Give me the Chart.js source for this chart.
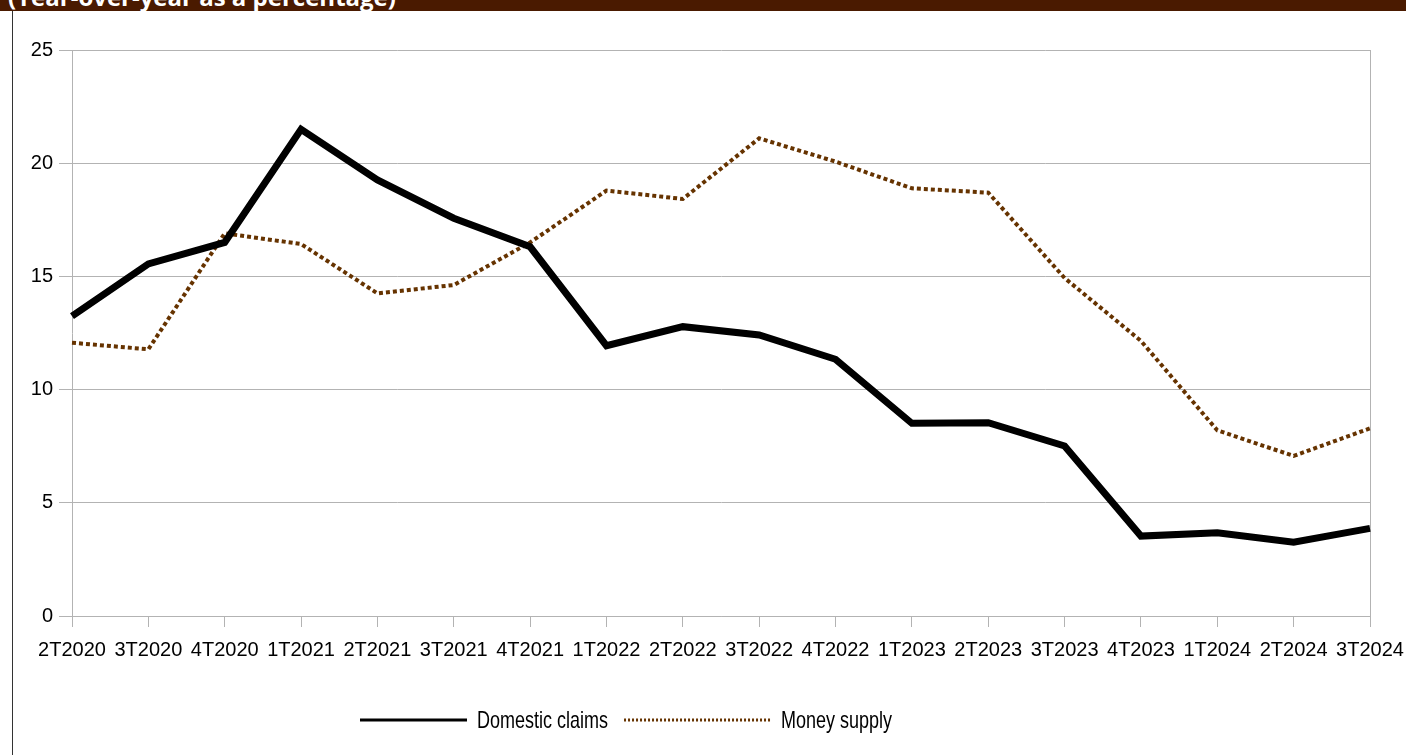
<!DOCTYPE html>
<html>
<head>
<meta charset="utf-8">
<script src="https://cdn.jsdelivr.net/npm/chart.js@4.4.1/dist/chart.umd.min.js"></script>
<style>
  html, body { margin: 0; padding: 0; background: #fff; overflow: hidden; }
  #wrap { position: relative; width: 1406px; height: 755px; }
  #banner { position: absolute; left: 0; top: 0; width: 1406px; height: 11px; background: #4a1a00; overflow: hidden; z-index: 2; }
  #banner span { position: absolute; left: 8px; top: -15px; font: bold 24px "Open Sans", sans-serif; line-height: 24px; color: #fff; white-space: nowrap; }
  #frame { position: absolute; left: 12px; top: 11px; width: 1px; height: 744px; background: #333; z-index: 2; }
  canvas { position: absolute; left: 0; top: 0; }
</style>
</head>
<body>
<div id="wrap">
  <div id="banner"><span>(Year-over-year as a percentage)</span></div>
  <div id="frame"></div>
  <canvas id="chart" width="1406" height="755"></canvas>
</div>
<script>
// Domestic claims vs money supply, year-over-year %, quarterly.

const QUARTERS = [
  "2T2020", "3T2020", "4T2020", "1T2021", "2T2021", "3T2021", "4T2021", "1T2022", "2T2022",
  "3T2022", "4T2022", "1T2023", "2T2023", "3T2023", "4T2023", "1T2024", "2T2024", "3T2024",
];
const DOMESTIC_CLAIMS = [13.25, 15.55, 16.5, 21.5, 19.26, 17.57, 16.31, 11.94, 12.78, 12.41, 11.34, 8.51, 8.54, 7.51, 3.53, 3.68, 3.26, 3.87];
const MONEY_SUPPLY = [12.07, 11.78, 16.9, 16.43, 14.25, 14.62, 16.5, 18.79, 18.42, 21.1, 20.07, 18.89, 18.7, 14.93, 12.15, 8.2, 7.07, 8.29];
const Y_MIN = 0;
const Y_MAX = 25;
const Y_STEP = 5;

const GRID = "#b3b3b3";
const BROWN = "#663300";
const AXIS_FONT = { family: '"Liberation Sans", Arial, sans-serif', size: 20 };

// legend drawn by hand: the two samples have different lengths and the text is condensed
const LEGEND_SAMPLES = [
  { width: 107, lineWidth: 3, dash: [] },
  { width: 147, lineWidth: 3, dash: [2, 2] },
];
const LEGEND_SQUEEZE = 0.75;

const bottomLegend = {
  id: "bottomLegend",
  afterDraw(chart) {
    const ctx = chart.ctx;
    const y = 721;
    let x = 360;
    ctx.save();
    ctx.font = '24px "Liberation Sans", Arial, sans-serif';
    ctx.textBaseline = "middle";
    chart.data.datasets.forEach((ds, i) => {
      const s = LEGEND_SAMPLES[i];
      ctx.beginPath();
      ctx.strokeStyle = ds.borderColor;
      ctx.lineWidth = s.lineWidth;
      ctx.setLineDash(s.dash);
      ctx.lineCap = "butt";
      ctx.moveTo(x, y - 1);
      ctx.lineTo(x + s.width, y - 1);
      ctx.stroke();
      x += s.width + 10;
      ctx.setLineDash([]);
      ctx.fillStyle = "#000";
      ctx.save();
      ctx.translate(x, y);
      ctx.scale(LEGEND_SQUEEZE, 1);
      ctx.fillText(ds.label, 0, 0);
      ctx.restore();
      x += ctx.measureText(ds.label).width * LEGEND_SQUEEZE + 16;
    });
    ctx.restore();
  },
};

new Chart(document.getElementById("chart"), {
  type: "line",
  data: {
    labels: QUARTERS,
    datasets: [
      {
        label: "Domestic claims",
        data: DOMESTIC_CLAIMS,
        borderColor: "#000",
        borderWidth: 7,
        borderJoinStyle: "miter",
        pointRadius: 0,
        tension: 0,
      },
      {
        label: "Money supply",
        data: MONEY_SUPPLY,
        borderColor: BROWN,
        borderWidth: 4,
        borderDash: [4, 3],
        borderJoinStyle: "miter",
        pointRadius: 0,
        tension: 0,
      },
    ],
  },
  options: {
    responsive: false,
    animation: false,
    layout: { padding: { top: 50, right: 36, bottom: 79, left: 0 } },
    plugins: {
      legend: { display: false },
      tooltip: { enabled: false },
    },
    scales: {
      x: {
        offset: false,
        afterFit(scale) {
          scale.height = 60;
          scale.paddingLeft = 0;
          scale.paddingRight = 0;
        },
        grid: {
          color: c => (c.index === QUARTERS.length - 1 ? GRID : "transparent"),
          tickColor: GRID,
          tickLength: 11,
        },
        border: { color: GRID },
        ticks: { color: "#000", font: AXIS_FONT, padding: 11, maxRotation: 0, autoSkip: false },
      },
      y: {
        min: Y_MIN,
        max: Y_MAX,
        afterFit(scale) {
          scale.width = 72;
          scale.paddingTop = 0;
          scale.paddingBottom = 0;
        },
        grid: { color: GRID, tickColor: GRID, tickLength: 13 },
        border: { color: GRID },
        ticks: { stepSize: Y_STEP, color: "#000", font: AXIS_FONT, padding: 6 },
      },
    },
  },
  plugins: [bottomLegend],
});
</script>
</body>
</html>
